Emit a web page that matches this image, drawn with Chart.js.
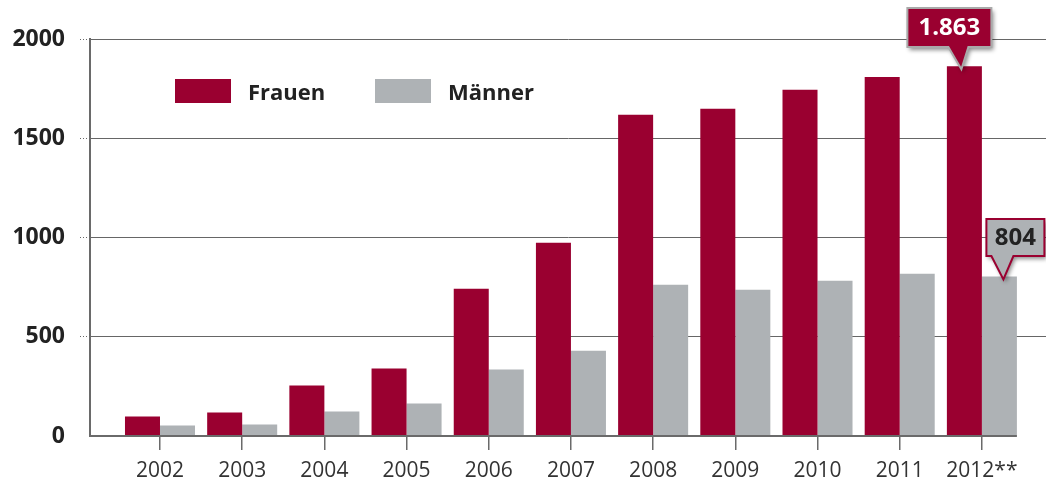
<!DOCTYPE html>
<html>
<head>
<meta charset="utf-8">
<title>Frauen / Männer</title>
<script src="https://cdn.jsdelivr.net/npm/chart.js@4.4.1/dist/chart.umd.min.js"></script>
<style>
    html, body { margin: 0; padding: 0; background: #fff; }
    #wrap { position: relative; width: 1046px; height: 482px; }
    .legend-item { position: absolute; top: 79px; height: 24px; font-family: "Open Sans", sans-serif; font-weight: bold; font-size: 22px; color: #222; }
    .legend-box { position: absolute; left: 0; top: 0; width: 56px; height: 24px; }
    .legend-text { position: absolute; left: 73px; top: -3px; line-height: 30px; white-space: nowrap; }
</style>
</head>
<body>
<div id="wrap">
    <canvas id="chart" width="1046" height="482"></canvas>
    <div class="legend-item" style="left: 175px;"><div class="legend-box" style="background: #9a0030;"></div><div class="legend-text">Frauen</div></div>
    <div class="legend-item" style="left: 375px;"><div class="legend-box" style="background: #aeb2b5;"></div><div class="legend-text">Männer</div></div>
</div>
<script>
// Frauen / Männer 2002 - 2012

var years = ['2002', '2003', '2004', '2005', '2006', '2007', '2008', '2009', '2010', '2011', '2012**'];
var frauen = [98, 118, 254, 340, 742, 974, 1618, 1648, 1744, 1809, 1863];
var maenner = [53, 58, 123, 164, 335, 430, 762, 737, 782, 818, 804];
var yTicks = [0, 500, 1000, 1500, 2000];

var CRIMSON = '#9a0030';
var GREY = '#aeb2b5';
var AXIS = '#6a6a6a';

function toPoints(values) {
    return values.map(function (v, i) { return { x: i, y: v }; });
}

// x axis line only runs to the end of the last bar
var axisLinePlugin = {
    id: 'axisLine',
    afterDatasetsDraw: function (chart) {
        var ctx = chart.ctx;
        var area = chart.chartArea;
        var meta = chart.getDatasetMeta(1);
        var last = meta.data[meta.data.length - 1];
        var right = last.x + last.width / 2;
        ctx.save();
        ctx.strokeStyle = AXIS;
        ctx.lineWidth = 2;
        ctx.beginPath();
        ctx.moveTo(area.left - 1, area.bottom);
        ctx.lineTo(right, area.bottom);
        ctx.stroke();
        ctx.restore();
    }
};

function drawCallout(ctx, bar, text, opt) {
    var left = bar.x + opt.dx;
    var top = opt.top;
    var w = opt.w;
    var h = opt.h;
    var tipX = bar.x + opt.tipDx;
    var tipY = bar.y + 3;

    ctx.save();
    ctx.shadowColor = 'rgba(0,0,0,0.45)';
    ctx.shadowBlur = 4;
    ctx.shadowOffsetX = 2;
    ctx.shadowOffsetY = 3;
    ctx.beginPath();
    ctx.moveTo(left, top);
    ctx.lineTo(left + w, top);
    ctx.lineTo(left + w, top + h);
    ctx.lineTo(bar.x + opt.baseR, top + h);
    ctx.lineTo(tipX, tipY);
    ctx.lineTo(bar.x + opt.baseL, top + h);
    ctx.lineTo(left, top + h);
    ctx.closePath();
    ctx.fillStyle = opt.fill;
    ctx.fill();
    ctx.shadowColor = 'transparent';
    ctx.lineWidth = 2;
    ctx.strokeStyle = opt.stroke;
    ctx.stroke();

    ctx.fillStyle = opt.color;
    ctx.font = 'bold 24px "Open Sans", sans-serif';
    ctx.textAlign = 'center';
    ctx.textBaseline = 'middle';
    ctx.fillText(text, left + w / 2, top + h / 2 + 1);
    ctx.restore();
}

var calloutPlugin = {
    id: 'callouts',
    afterDatasetsDraw: function (chart) {
        var ctx = chart.ctx;
        var n = years.length - 1;
        var fBar = chart.getDatasetMeta(0).data[n];
        var mBar = chart.getDatasetMeta(1).data[n];

        drawCallout(ctx, fBar, frauen[n].toLocaleString('de-DE'), {
            dx: -57, top: 8, w: 84, h: 39,
            baseL: -16, baseR: 4, tipDx: -3,
            fill: CRIMSON, stroke: '#a9a9a9', color: '#fff'
        });
        drawCallout(ctx, mBar, String(maenner[n]), {
            dx: -13, top: 219, w: 58, h: 37,
            baseL: -8, baseR: 14, tipDx: 4,
            fill: GREY, stroke: CRIMSON, color: '#222'
        });
    }
};

document.addEventListener('DOMContentLoaded', function () {
    var ctx = document.getElementById('chart').getContext('2d');

    new Chart(ctx, {
        type: 'bar',
        data: {
            datasets: [
                {
                    label: 'Frauen',
                    data: toPoints(frauen),
                    backgroundColor: CRIMSON,
                    borderWidth: 0,
                    categoryPercentage: 0.852,
                    barPercentage: 1
                },
                {
                    label: 'Männer',
                    data: toPoints(maenner),
                    backgroundColor: GREY,
                    borderWidth: 0,
                    categoryPercentage: 0.852,
                    barPercentage: 1
                }
            ]
        },
        options: {
            responsive: false,
            animation: false,
            layout: { padding: { top: 39, right: 0, left: 0, bottom: 0 } },
            plugins: {
                legend: { display: false },
                tooltip: { enabled: false }
            },
            scales: {
                x: {
                    type: 'linear',
                    offset: false,
                    min: -0.8516,
                    max: 10.78,
                    afterFit: function (scale) { scale.height = 46; },
                    border: { display: false },
                    grid: {
                        offset: false,
                        drawOnChartArea: false,
                        drawTicks: true,
                        tickLength: 14,
                        tickColor: AXIS,
                        lineWidth: 1.5
                    },
                    ticks: {
                        stepSize: 1,
                        includeBounds: false,
                        autoSkip: false,
                        maxRotation: 0,
                        maxTicksLimit: 20,
                        padding: 8,
                        color: '#333',
                        font: { family: '"Open Sans", sans-serif', size: 21 },
                        callback: function (value) { return years[value]; }
                    }
                },
                y: {
                    min: yTicks[0],
                    max: yTicks[yTicks.length - 1],
                    afterFit: function (scale) { scale.width = 90; },
                    afterBuildTicks: function (scale) {
                        scale.ticks = yTicks.map(function (v) { return { value: v }; });
                    },
                    border: { display: true, color: AXIS, width: 2 },
                    grid: {
                        color: function (c) { return c.tick && c.tick.value === 0 ? 'rgba(0,0,0,0)' : '#666'; },
                        tickColor: function (c) { return c.tick && c.tick.value === 0 ? 'rgba(0,0,0,0)' : '#666'; },
                        lineWidth: 1,
                        borderDash: [1, 2],
                        tickBorderDash: [1, 2],
                        tickLength: 10
                    },
                    ticks: {
                        padding: 15,
                        color: '#222',
                        font: { family: '"Open Sans", sans-serif', size: 23, weight: 'bold' },
                        callback: function (value) { return String(value); }
                    }
                }
            }
        },
        plugins: [axisLinePlugin, calloutPlugin]
    });
});
</script>
</body>
</html>
